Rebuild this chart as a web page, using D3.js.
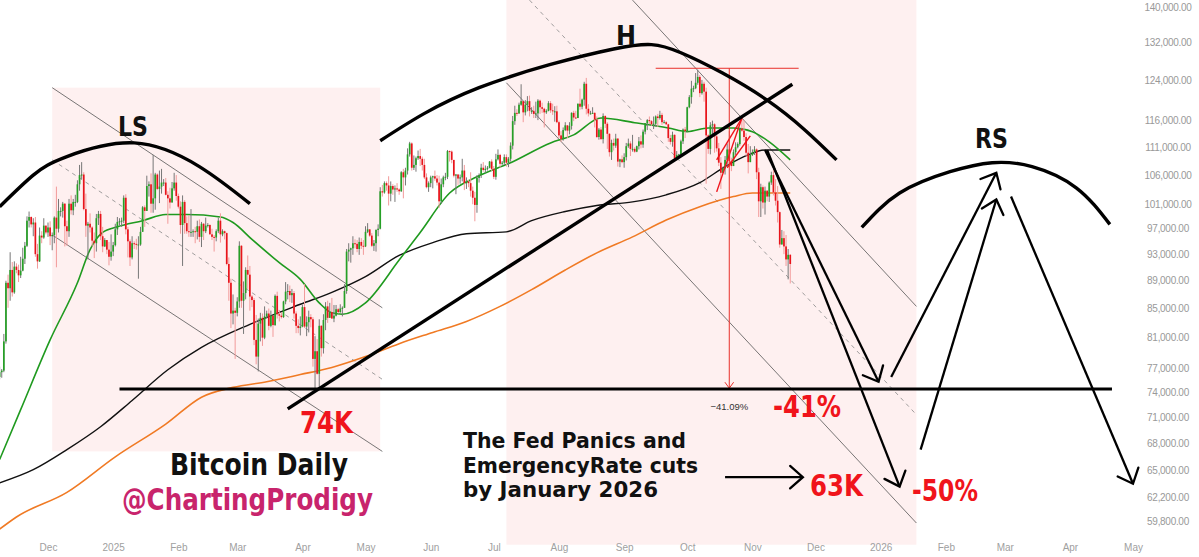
<!DOCTYPE html>
<html>
<head>
<meta charset="utf-8">
<script src="https://cdn.jsdelivr.net/npm/d3@7"></script>
<style>
  body { margin: 0; background: #fff; }
  svg { display: block; font-family: "DejaVu Sans", sans-serif; }
</style>
</head>
<body>
<svg id="chart" width="1199" height="557"></svg>
<script>
// BTC daily candles, prices in thousands, first bar 2024-11-08
// open of each bar = previous close
const firstDay = "2024-11-08";
const firstOpen = 75.9;
const closes = [
  76.5, 76.7, 80.5, 88.7, 87.9, 90.6, 87.3, 91.1, 90.6, 89.8, 90.5, 92.3, 94.3, 98.3, 98.9, 97.7, 98.0, 93.0, 91.9, 95.9, 95.6, 97.5, 96.4,
  97.2, 95.8, 96.0, 98.8, 97.0, 99.9, 99.9, 101.1, 97.4, 96.6, 101.1, 100.0, 101.4, 101.4, 104.4, 106.0, 106.1, 100.2, 97.5, 97.8, 97.2, 95.1, 94.7, 98.7, 99.4, 95.8, 94.2, 95.2, 93.7, 92.6, 93.4,
  94.4, 96.9, 98.1, 98.2, 98.3, 102.1, 96.9, 95.0, 92.5, 94.7, 94.6, 94.5, 94.5, 96.5, 100.5, 99.9, 104.1, 104.4, 101.1, 102.0, 106.1, 103.6, 104.0, 104.7, 104.7, 102.6, 102.0, 101.3, 103.7, 104.7, 102.4,
  100.6, 97.6, 101.4, 97.9, 96.6, 96.5, 96.5, 96.6, 96.5, 97.4, 95.7, 97.8, 96.6, 97.5, 97.6, 96.1, 95.7, 95.6, 96.6, 98.3, 96.1, 96.6, 96.3, 91.5, 88.7, 84.3, 84.7, 84.4,
  86.0, 94.3, 86.1, 87.2, 90.6, 89.9, 86.7, 86.2, 80.7, 78.5, 82.9, 83.7, 81.0, 83.9, 84.3, 82.6, 84.0, 82.7, 86.8, 84.2, 84.0, 83.8, 86.0, 87.4, 87.5, 86.9, 87.2, 84.3, 82.6, 82.3, 82.5,
  85.2, 82.5, 83.1, 83.8, 83.5, 78.2, 79.2, 76.3, 82.6, 79.6, 83.4, 85.3, 83.7, 84.5, 83.6, 84.0, 84.9, 84.5, 85.0, 85.1, 87.5, 93.4, 93.7, 93.9, 94.7, 94.6, 93.8, 94.9, 94.3, 94.2,
  96.5, 96.9, 95.9, 94.3, 94.7, 96.8, 97.0, 103.2, 103.0, 104.6, 104.2, 102.8, 104.1, 103.5, 103.7, 103.5, 103.2, 106.5, 105.6, 106.8, 109.7, 111.7, 107.3, 107.8, 109.0, 109.4, 108.9, 107.8, 105.6, 103.9, 104.6,
  105.6, 105.8, 105.4, 104.7, 101.5, 104.4, 105.6, 105.7, 110.3, 110.2, 108.7, 105.9, 106.1, 105.4, 105.6, 106.8, 104.6, 104.9, 104.6, 103.3, 102.1, 100.9, 105.5, 106.0, 107.3, 106.9, 107.1, 107.3, 108.4, 107.1,
  105.7, 108.8, 109.6, 108.0, 108.2, 109.2, 108.2, 108.9, 111.3, 115.9, 117.5, 117.4, 119.1, 119.8, 117.6, 119.1, 119.8, 117.9, 117.9, 117.3, 117.4, 119.9, 118.6, 118.3, 117.6, 117.9, 119.4, 118.0, 117.8, 117.8, 115.7,
  113.2, 112.5, 114.2, 115.1, 114.1, 115.0, 117.5, 116.6, 116.5, 119.3, 118.7, 120.1, 123.3, 118.3, 117.4, 117.4, 117.5, 116.2, 112.9, 114.3, 112.5, 116.9, 115.4, 113.5, 110.1, 111.8, 111.3, 112.6, 108.4, 108.8, 108.3,
  109.2, 111.2, 111.7, 110.7, 110.7, 110.2, 111.2, 112.1, 111.5, 113.9, 115.5, 116.1, 115.9, 115.3, 115.4, 116.8, 116.5, 117.1, 115.7, 115.7, 115.3, 112.7, 112.0, 113.3, 109.0, 109.6, 109.7, 112.1, 114.3, 114.0,
  118.6, 120.6, 122.3, 122.4, 123.5, 124.7, 121.4, 123.3, 121.7, 113.2, 110.7, 115.1, 115.3, 113.0, 110.8, 108.2, 106.4, 107.2, 108.7, 110.6, 108.5, 107.6, 110.1, 111.0, 111.6, 114.5, 114.1, 112.9, 110.0, 108.3, 109.6,
  110.1, 110.6, 106.5, 101.5, 103.9, 101.3, 103.3, 102.3, 104.7, 106.0, 103.0, 101.6, 99.7, 94.5, 95.5, 94.2, 92.2, 92.9, 91.5
];
const highs = [
  77.2, 76.9, 81.5, 89.0, 89.9, 93.3, 91.8, 91.9, 91.6, 91.4, 92.6, 94.0, 94.9, 99.0, 99.8, 99.0, 98.7, 98.9, 94.6, 97.2, 96.6, 98.7, 97.5,
  98.0, 98.2, 96.4, 99.0, 104.0, 101.9, 100.5, 101.4, 101.2, 98.3, 101.9, 102.5, 101.9, 102.6, 105.1, 107.8, 108.3, 106.5, 102.8, 98.1, 99.5, 97.4, 96.4, 99.4, 99.9, 99.9, 97.3, 95.5, 95.2, 94.9, 96.1,
  94.9, 97.8, 98.9, 98.7, 98.8, 102.5, 102.7, 97.3, 95.3, 95.8, 95.0, 95.4, 95.8, 97.3, 100.7, 100.8, 105.9, 104.9, 106.3, 109.6, 106.4, 106.3, 106.8, 107.1, 105.3, 105.5, 103.2, 103.8, 104.8, 106.4, 106.0,
  102.8, 101.5, 102.5, 101.7, 99.0, 99.2, 100.2, 96.9, 97.3, 98.3, 98.5, 98.1, 97.9, 98.8, 97.9, 97.7, 97.0, 96.0, 96.9, 98.8, 99.5, 96.9, 96.7, 96.4, 92.5, 89.3, 87.0, 85.1,
  86.6, 95.0, 94.4, 88.9, 91.0, 92.8, 91.2, 86.9, 86.5, 84.1, 83.6, 84.4, 84.3, 85.3, 84.7, 85.0, 84.7, 84.0, 87.0, 87.4, 84.8, 84.5, 86.1, 88.8, 88.5, 88.3, 87.8, 87.5, 84.6, 83.5, 83.9,
  85.5, 88.5, 83.9, 84.7, 84.2, 83.8, 81.2, 80.8, 83.5, 82.7, 84.2, 85.9, 86.1, 85.8, 86.5, 85.5, 85.5, 85.1, 85.6, 85.3, 88.5, 93.8, 94.7, 94.0, 95.8, 95.3, 95.2, 95.6, 95.5, 95.2,
  97.4, 97.9, 96.9, 96.3, 95.2, 96.9, 97.7, 103.9, 104.3, 104.9, 104.9, 105.8, 104.9, 104.4, 104.2, 104.6, 103.7, 106.7, 107.1, 107.3, 110.8, 112.0, 111.9, 109.5, 109.3, 110.4, 110.7, 109.3, 108.9, 106.3, 104.9,
  105.9, 105.9, 106.8, 106.0, 105.9, 105.4, 105.9, 106.4, 110.5, 110.4, 110.4, 108.7, 106.2, 106.2, 106.1, 108.9, 107.8, 105.6, 105.2, 106.5, 104.0, 103.1, 106.0, 106.3, 108.0, 108.3, 107.7, 107.6, 108.5, 108.8,
  107.6, 109.8, 110.6, 109.8, 108.5, 109.7, 109.7, 109.2, 111.9, 116.9, 118.9, 118.2, 119.5, 123.2, 119.9, 120.0, 120.8, 120.9, 118.6, 118.9, 119.7, 120.2, 120.1, 119.5, 118.5, 118.2, 119.8, 119.8, 119.3, 118.8, 118.9,
  116.0, 114.0, 114.7, 115.7, 115.1, 115.7, 117.6, 117.9, 117.9, 119.3, 122.3, 120.3, 123.7, 124.5, 119.2, 117.9, 118.6, 117.6, 116.8, 114.6, 114.8, 117.4, 117.0, 115.7, 113.6, 112.4, 112.6, 113.5, 112.7, 108.9, 109.5,
  109.9, 111.8, 112.6, 112.1, 113.3, 111.0, 111.3, 112.9, 113.2, 114.3, 115.5, 116.3, 116.8, 116.1, 116.8, 117.0, 117.3, 117.9, 117.5, 116.1, 115.9, 115.4, 113.3, 113.9, 113.4, 110.3, 109.8, 112.4, 114.5, 114.8,
  118.7, 121.0, 123.9, 122.9, 125.5, 126.2, 125.1, 124.1, 123.7, 122.5, 113.4, 115.7, 116.0, 115.5, 113.6, 111.8, 109.2, 107.5, 109.4, 111.7, 114.0, 109.1, 110.6, 111.9, 111.9, 114.6, 116.4, 116.1, 113.6, 111.6, 111.2,
  110.6, 111.2, 110.8, 107.3, 104.5, 104.2, 104.0, 103.4, 104.9, 106.6, 107.5, 105.3, 104.1, 99.8, 96.8, 96.6, 96.0, 93.8, 93.0
];
const lows = [
  75.6, 75.8, 76.5, 80.2, 85.1, 86.1, 86.7, 87.1, 90.1, 88.8, 89.4, 90.4, 91.5, 94.1, 97.2, 97.2, 95.8, 92.6, 90.8, 91.8, 94.7, 95.4, 96.1,
  95.7, 94.4, 93.6, 94.7, 91.0, 96.4, 99.0, 98.8, 94.2, 94.3, 95.7, 99.3, 99.2, 100.6, 101.2, 103.3, 105.3, 100.0, 95.7, 92.2, 96.4, 94.2, 92.4, 93.4, 97.6, 95.2, 93.3, 94.1, 93.0, 91.3, 92.0,
  92.7, 94.2, 96.0, 97.5, 97.3, 97.9, 96.1, 92.5, 91.2, 92.2, 93.8, 93.7, 89.3, 94.3, 96.5, 97.3, 99.9, 102.3, 99.6, 99.6, 100.1, 103.4, 101.2, 102.8, 104.1, 102.5, 97.8, 100.3, 101.3, 103.3, 101.6,
  100.3, 96.2, 91.2, 96.2, 96.2, 95.7, 95.7, 95.7, 94.7, 95.3, 94.9, 94.1, 95.2, 96.3, 97.2, 96.1, 95.2, 93.4, 95.0, 96.3, 94.8, 95.8, 95.3, 91.3, 86.1, 82.3, 82.8, 78.2,
  83.9, 85.1, 85.1, 81.5, 86.3, 87.8, 84.7, 85.2, 80.0, 77.5, 76.6, 80.5, 79.9, 80.8, 83.6, 82.0, 82.4, 81.1, 82.6, 83.6, 83.2, 83.6, 83.7, 85.6, 86.3, 85.9, 85.8, 83.6, 81.6, 81.6, 81.3,
  82.4, 82.3, 81.2, 81.7, 82.4, 77.2, 74.5, 76.2, 74.6, 78.5, 78.9, 82.0, 83.0, 83.7, 83.6, 83.1, 83.9, 84.3, 84.4, 83.9, 85.1, 87.1, 91.9, 91.7, 92.9, 93.9, 93.3, 92.9, 93.8, 92.9,
  94.1, 96.3, 95.7, 94.1, 93.5, 93.4, 95.8, 96.9, 102.3, 102.8, 103.3, 100.8, 101.5, 102.6, 101.4, 103.1, 102.6, 103.1, 102.0, 104.2, 106.1, 109.3, 106.8, 106.9, 106.6, 108.7, 107.6, 106.8, 105.3, 103.7, 103.1,
  103.9, 103.7, 105.0, 104.2, 100.4, 101.1, 103.9, 105.1, 105.3, 108.4, 108.1, 105.6, 102.7, 104.3, 104.5, 104.9, 103.4, 103.6, 103.9, 102.3, 101.0, 98.2, 99.6, 104.7, 105.5, 106.6, 106.4, 106.8, 107.2, 106.7,
  105.3, 105.2, 108.6, 107.3, 107.8, 107.8, 107.5, 107.4, 108.4, 110.6, 115.2, 116.9, 117.3, 118.9, 115.7, 117.0, 117.8, 116.8, 117.3, 116.5, 116.5, 116.1, 117.3, 117.5, 114.7, 117.3, 117.8, 117.5, 117.1, 115.8, 115.5,
  112.7, 112.0, 112.2, 114.0, 112.7, 113.4, 114.3, 115.9, 116.3, 116.5, 118.1, 118.2, 118.9, 117.2, 116.8, 117.2, 117.3, 114.7, 112.7, 112.4, 112.4, 111.7, 114.6, 110.7, 109.3, 108.7, 110.4, 110.9, 107.5, 107.4, 108.1,
  107.3, 108.6, 110.9, 109.4, 110.2, 110.0, 110.1, 110.6, 110.8, 110.9, 113.4, 114.2, 115.3, 115.0, 114.4, 114.9, 114.8, 116.2, 115.2, 115.5, 115.2, 112.0, 111.5, 111.1, 108.7, 108.6, 109.1, 109.3, 111.6, 112.7,
  113.9, 118.4, 119.3, 121.6, 122.2, 123.1, 120.6, 121.1, 119.7, 104.5, 109.8, 109.7, 113.1, 110.0, 110.2, 107.6, 103.6, 106.4, 106.1, 107.5, 107.5, 106.7, 107.6, 109.6, 110.8, 111.3, 113.9, 112.2, 109.4, 106.3, 108.3,
  109.4, 109.6, 105.3, 98.9, 98.9, 100.3, 99.3, 101.5, 101.4, 104.3, 102.5, 100.8, 98.0, 94.0, 94.5, 93.0, 91.2, 89.2, 88.6
];

// moving averages [date, price K]
const sma50 = [["2024-11-08",66.2],["2024-11-18",71.9],["2024-12-02",80.7],["2024-12-15",88.7],["2024-12-21",93.7],["2024-12-27",96.4],["2025-01-03",97.3],["2025-01-15",98.3],["2025-01-26",99.3],["2025-02-05",99.3],["2025-02-21",98.9],["2025-02-27",98.0],["2025-03-08",95.3],["2025-03-21",91.7],["2025-03-31",89.2],["2025-04-09",85.8],["2025-04-15",84.4],["2025-04-20",84.2],["2025-05-01",85.8],["2025-05-17",92.1],["2025-05-27",96.4],["2025-06-10",102.9],["2025-06-23",105.7],["2025-07-09",108.2],["2025-07-28",111.8],["2025-08-08",113.3],["2025-08-21",116.5],["2025-09-06",115.6],["2025-09-22",114.6],["2025-10-01",113.9],["2025-10-11",114.6],["2025-10-23",114.6],["2025-11-01",113.9],["2025-11-09",112.0],["2025-11-19",108.7]];
const sma200 = [["2024-11-08",63.7],["2024-11-24",65.1],["2024-12-10",67.3],["2024-12-26",69.9],["2025-01-10",73.0],["2025-01-27",76.8],["2025-02-12",79.7],["2025-03-07",82.8],["2025-03-31",85.6],["2025-04-15",87.3],["2025-05-01",89.6],["2025-05-17",92.8],["2025-06-02",94.8],["2025-06-18",96.2],["2025-07-07",96.5],["2025-07-19",98.3],["2025-08-04",99.8],["2025-08-19",100.8],["2025-09-05",101.4],["2025-09-21",102.6],["2025-10-07",104.7],["2025-10-19",107.5],["2025-10-30",109.6],["2025-11-07",110.5],["2025-11-19",110.5]];
const sma350 = [["2024-11-08",59.0],["2024-11-16",60.2],["2024-12-10",62.7],["2025-01-02",66.5],["2025-01-26",70.2],["2025-02-12",73.4],["2025-02-27",74.6],["2025-03-15",75.3],["2025-03-31",76.2],["2025-04-15",77.1],["2025-05-01",78.5],["2025-05-17",80.2],["2025-06-02",81.7],["2025-06-18",83.2],["2025-07-04",85.3],["2025-07-19",87.7],["2025-08-04",90.6],["2025-08-19",93.2],["2025-09-05",95.7],["2025-09-21",98.4],["2025-10-07",100.6],["2025-10-23",102.3],["2025-11-01",102.9],["2025-11-19",102.9]];

// axis ticks
const yTicks = [140, 132, 124, 116, 111, 106, 101, 97, 93, 89, 85, 81, 77, 74, 71, 68, 65, 62.2, 59.8];
const monthTicks = ["2024-12-01","2025-01-01","2025-02-01","2025-03-01","2025-04-01","2025-05-01","2025-06-01","2025-07-01","2025-08-01","2025-09-01","2025-10-01","2025-11-01","2025-12-01","2026-01-01","2026-02-01","2026-03-01","2026-04-01","2026-05-01"];

// drawings, [date, price K]
const boxLS = [["2024-12-03",122.5],["2025-05-08",67.1]];
const boxH = [["2025-07-07",142],["2026-01-18",57.5]];
const chanLS = [
  [["2024-12-03",122.5],["2025-05-09",85.1]],
  [["2024-12-03",108.7],["2025-05-09",75.6]],
  [["2024-12-03",96.0],["2025-05-09",67.1]]
];
const chanH = [
  [["2025-09-05",141.6],["2026-01-18",85.3]],
  [["2025-07-18",141.6],["2026-01-18",71.3]],
  [["2025-07-07",123.5],["2026-01-18",59.6]]
];
const arcLS = [["2024-11-08",100.6],["2024-11-24",106.0],["2024-12-10",109.3],["2025-01-11",111.8],["2025-02-11",107.5],["2025-03-07",101.1]];
const arcH = [["2025-05-08",112.2],["2025-06-24",122.5],["2025-08-27",130.6],["2025-09-28",129.8],["2025-11-08",120.0],["2025-12-11",108.7]];
const arcRS = [["2025-12-23",97.2],["2026-01-10",102.9],["2026-02-03",106.6],["2026-02-23",108.2],["2026-03-14",107.5],["2026-04-04",103.8],["2026-04-20",97.7]];
const neckline = [["2025-01-04",74.4],["2026-04-21",74.4]];
const trendline = [["2025-03-25",72.0],["2025-11-20",123.2]];
const wedge = [
  [["2025-10-15",103.1],["2025-10-27",116.5]],
  [["2025-10-15",108.7],["2025-10-27",116.5]],
  [["2025-10-20",107.3],["2025-10-31",113.1]]
];
const measure = { from: "2025-09-16", to: "2025-11-23", at: "2025-10-21", top: 126.5, bottom: 74.5 };
const arrows = [
  [["2025-11-07",110.5],["2025-12-31",75.3]],
  [["2025-11-08",110.5],["2026-01-10",63.3]],
  [["2026-01-06",75.9],["2026-02-25",106.4]],
  [["2026-01-20",67.3],["2026-02-25",101.8]],
  [["2026-03-04",102.3],["2026-05-01",63.6]],
  [["2025-10-19",64.3],["2025-11-25",64.3]]
];

const parse = d3.timeParse("%Y-%m-%d");
const svg = d3.select("#chart");
const x = d3.scaleTime().domain([parse("2024-12-01"), parse("2026-05-01")]).range([48, 1133]);
const y = d3.scaleLog().domain([140, 59.8]).range([7, 521]);
const pt = d => [x(parse(d[0])), y(d[1])];
const line = d3.line();

svg.append("defs").append("clipPath").attr("id", "plot")
  .append("rect").attr("x", 0).attr("y", 0).attr("width", 1120).attr("height", 545);
const plot = svg.append("g").attr("clip-path", "url(#plot)");

// pink boxes
[boxLS, boxH].forEach(b => {
  const a = pt(b[0]), c = pt(b[1]);
  plot.append("rect").attr("x", a[0]).attr("y", a[1])
    .attr("width", c[0] - a[0]).attr("height", c[1] - a[1])
    .attr("fill", "#fef0f0");
});

// channels
[chanLS, chanH].forEach(ch => {
  ch.forEach((seg, i) => {
    plot.append("path").attr("d", line(seg.map(pt)))
      .attr("fill", "none").attr("stroke", i === 1 ? "#888" : "#555")
      .attr("stroke-width", 0.8)
      .attr("stroke-dasharray", i === 1 ? "4,4" : null);
  });
});

// moving averages
const maLine = d3.line().x(d => pt(d)[0]).y(d => pt(d)[1]).curve(d3.curveMonotoneX);
plot.append("path").attr("d", maLine(sma350)).attr("fill", "none").attr("stroke", "#f07a24").attr("stroke-width", 1.6);
plot.append("path").attr("d", maLine(sma200)).attr("fill", "none").attr("stroke", "#111").attr("stroke-width", 1.4);
plot.append("path").attr("d", maLine(sma50)).attr("fill", "none").attr("stroke", "#1f9a1f").attr("stroke-width", 1.6);

// candles
const candles = closes.map((c, i) => {
  const o = i === 0 ? firstOpen : closes[i - 1];
  return {
    date: d3.timeDay.offset(parse(firstDay), i),
    o, c,
    h: Math.max(highs[i], o, c),
    l: Math.min(lows[i], o, c)
  };
});
const cg = plot.append("g");
cg.selectAll("line").data(candles).join("line")
  .attr("x1", d => x(d.date)).attr("x2", d => x(d.date))
  .attr("y1", d => y(d.h)).attr("y2", d => y(d.l))
  .attr("stroke", d => d.c >= d.o ? "#777" : "#f29a9a").attr("stroke-width", 1);
cg.selectAll("rect").data(candles).join("rect")
  .attr("x", d => x(d.date) - 0.85).attr("width", 1.7)
  .attr("y", d => y(Math.max(d.o, d.c)))
  .attr("height", d => Math.max(1, Math.abs(y(d.o) - y(d.c))))
  .attr("fill", d => d.c >= d.o ? "#26a026" : "#e8141b");

// red wedge
wedge.forEach(seg => {
  plot.append("path").attr("d", line(seg.map(pt)))
    .attr("stroke", "#f0141b").attr("stroke-width", 1.4).attr("fill", "none");
});

// measurement
const mx = x(parse(measure.at));
const mx1 = x(parse(measure.from)), mx2 = x(parse(measure.to));
plot.append("line").attr("x1", mx1).attr("x2", mx2).attr("y1", y(measure.top)).attr("y2", y(measure.top))
  .attr("stroke", "#e8302a").attr("stroke-width", 1);
plot.append("line").attr("x1", mx1).attr("x2", mx2).attr("y1", y(measure.bottom) + 1).attr("y2", y(measure.bottom) + 1)
  .attr("stroke", "#e8302a").attr("stroke-width", 1);
plot.append("line").attr("x1", mx).attr("x2", mx).attr("y1", y(measure.top)).attr("y2", y(measure.bottom))
  .attr("stroke", "#e8302a").attr("stroke-width", 1);

function head(g, a, b, len, ang, color, w) {
  const t = Math.atan2(b[1] - a[1], b[0] - a[0]);
  const p = d3.path();
  p.moveTo(b[0] - len * Math.cos(t - ang), b[1] - len * Math.sin(t - ang));
  p.lineTo(b[0], b[1]);
  p.lineTo(b[0] - len * Math.cos(t + ang), b[1] - len * Math.sin(t + ang));
  g.append("path").attr("d", p.toString()).attr("fill", "none")
    .attr("stroke", color).attr("stroke-width", w).attr("stroke-linecap", "round");
}
head(plot, [mx, y(measure.top)], [mx, y(measure.bottom)], 7, Math.PI / 5, "#e8302a", 1);
svg.append("text").attr("x", mx).attr("y", y(measure.bottom) + 22)
  .attr("text-anchor", "middle").attr("font-size", 9.5).attr("fill", "#333")
  .attr("font-family", "Liberation Sans, sans-serif").text("\u221241.09%");

// black drawings
const curve = d3.line().curve(d3.curveNatural);
[arcLS, arcH, arcRS].forEach(a => {
  plot.append("path").attr("d", curve(a.map(pt)))
    .attr("fill", "none").attr("stroke", "#000").attr("stroke-width", 3.4);
});
plot.append("path").attr("d", line(neckline.map(pt))).attr("stroke", "#000").attr("stroke-width", 3);
plot.append("path").attr("d", line(trendline.map(pt))).attr("stroke", "#000").attr("stroke-width", 3.4);

arrows.forEach(ar => {
  const a = pt(ar[0]), b = pt(ar[1]);
  svg.append("line").attr("x1", a[0]).attr("y1", a[1]).attr("x2", b[0]).attr("y2", b[1])
    .attr("stroke", "#000").attr("stroke-width", 2.3);
  head(svg, a, b, 17, Math.PI * 0.23, "#000", 2.3);
});

// labels
function label(t, lx, ly, size, w, fill) {
  svg.append("text").attr("x", lx).attr("y", ly)
    .attr("font-size", size).attr("font-weight", "bold").attr("fill", fill)
    .attr("textLength", w).attr("lengthAdjust", "spacingAndGlyphs")
    .text(t);
}
label("LS", 118, 136, 27, 30, "#111");
label("H", 616, 45, 27, 20, "#111");
label("RS", 975, 148, 27, 33, "#111");
label("74K", 300, 433, 31, 53, "#f0141b");
label("-41%", 773, 417, 31, 68, "#f0141b");
label("63K", 810, 496, 31, 53, "#f0141b");
label("-50%", 912, 501, 31, 66, "#f0141b");
label("Bitcoin Daily", 170, 475, 30, 178, "#111");
label("@ChartingProdigy", 122, 510, 30, 251, "#c8246c");
label("The Fed Panics and", 463, 448, 22, 223, "#111");
label("EmergencyRate cuts", 463, 473, 22, 235, "#111");
label("by January 2026", 463, 497, 22, 195, "#111");

// price axis
const yAxis = d3.axisRight(y).tickValues(yTicks).tickSize(0)
  .tickFormat(d => d3.format(",.2f")(d * 1000));
svg.append("g").attr("transform", "translate(1168,0)").call(yAxis)
  .call(g => g.select(".domain").remove())
  .selectAll("text").attr("x", 0).attr("text-anchor", "middle")
  .attr("fill", "#999").attr("font-size", 10).attr("letter-spacing", -0.3)
  .attr("font-family", "Liberation Sans, sans-serif");

// time axis
const xAxis = d3.axisBottom(x).tickValues(monthTicks.map(parse)).tickSize(0)
  .tickFormat(d => d.getMonth() === 0 ? d3.timeFormat("%Y")(d) : d3.timeFormat("%b")(d));
svg.append("g").attr("transform", "translate(0,541)").call(xAxis)
  .call(g => g.select(".domain").remove())
  .selectAll("text").attr("fill", "#a0a0a0").attr("font-size", 10)
  .attr("font-family", "Liberation Sans, sans-serif");
</script>
</body>
</html>
